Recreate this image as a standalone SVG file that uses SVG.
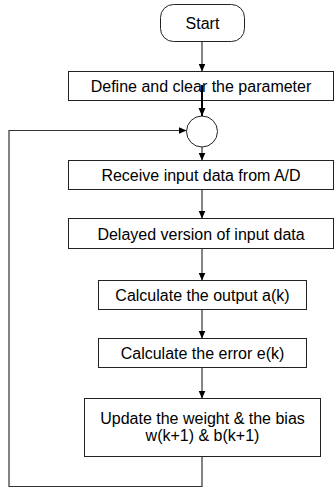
<svg xmlns="http://www.w3.org/2000/svg" width="334" height="490" viewBox="0 0 334 490">
<defs>
<style>
.box{fill:#fff;stroke:#222;stroke-width:1}
.t{font-family:"Liberation Sans",Arial,sans-serif;font-size:16px;fill:#000;text-anchor:middle}
.c{fill:none;stroke:#333;stroke-width:1.2}
.thick{fill:none;stroke:#000;stroke-width:2}
</style>
<marker id="ah" markerUnits="userSpaceOnUse" markerWidth="8" markerHeight="8" viewBox="0 0 8 8" refX="8" refY="4" orient="auto">
<path d="M0,0.5 L8,4 L0,7.5 Z" fill="#000"/>
</marker>
</defs>
<g id="start"><rect class="box" x="160.5" y="4.5" width="84" height="37" rx="13"/><text class="t" x="202.5" y="28.5">Start</text></g>
<g id="define"><rect class="box" x="68.5" y="71.5" width="265" height="29"/><text class="t" x="201" y="92">Define and clear the parameter</text></g>
<g id="junction"><circle class="box" cx="202" cy="131.5" r="15.5"/></g>
<g id="receive"><rect class="box" x="68.5" y="160.5" width="265" height="29"/><text class="t" x="201" y="181">Receive input data from A/D</text></g>
<g id="delayed"><rect class="box" x="68.5" y="218.5" width="265" height="30"/><text class="t" x="201" y="239.5">Delayed version of input data</text></g>
<g id="output"><rect class="box" x="98.5" y="280.5" width="208" height="29"/><text class="t" x="202.5" y="301">Calculate the output a(k)</text></g>
<g id="error"><rect class="box" x="98.5" y="338.5" width="208" height="29"/><text class="t" x="202.5" y="359">Calculate the error e(k)</text></g>
<g id="update"><rect class="box" x="84.5" y="398.5" width="236" height="58"/><text class="t" x="202.5" y="423.5">Update the weight &amp; the bias</text><text class="t" x="202.5" y="441">w(k+1) &amp; b(k+1)</text></g>
<g id="connectors">
<line class="c" x1="202" y1="42" x2="202" y2="71.5" marker-end="url(#ah)"/>
<line class="thick" x1="202" y1="85" x2="202" y2="116" marker-end="url(#ah)"/>
<line class="c" x1="202" y1="147" x2="202" y2="160.5" marker-end="url(#ah)"/>
<line class="c" x1="202" y1="190" x2="202" y2="218.5" marker-end="url(#ah)"/>
<line class="c" x1="202" y1="249" x2="202" y2="280.5" marker-end="url(#ah)"/>
<line class="c" x1="202" y1="310" x2="202" y2="338.5" marker-end="url(#ah)"/>
<line class="c" x1="202" y1="368" x2="202" y2="398.5" marker-end="url(#ah)"/>
<polyline class="c" points="202,457 202,486.5 9,486.5 9,130.5 186.5,130.5" marker-end="url(#ah)"/>
</g>
</svg>
